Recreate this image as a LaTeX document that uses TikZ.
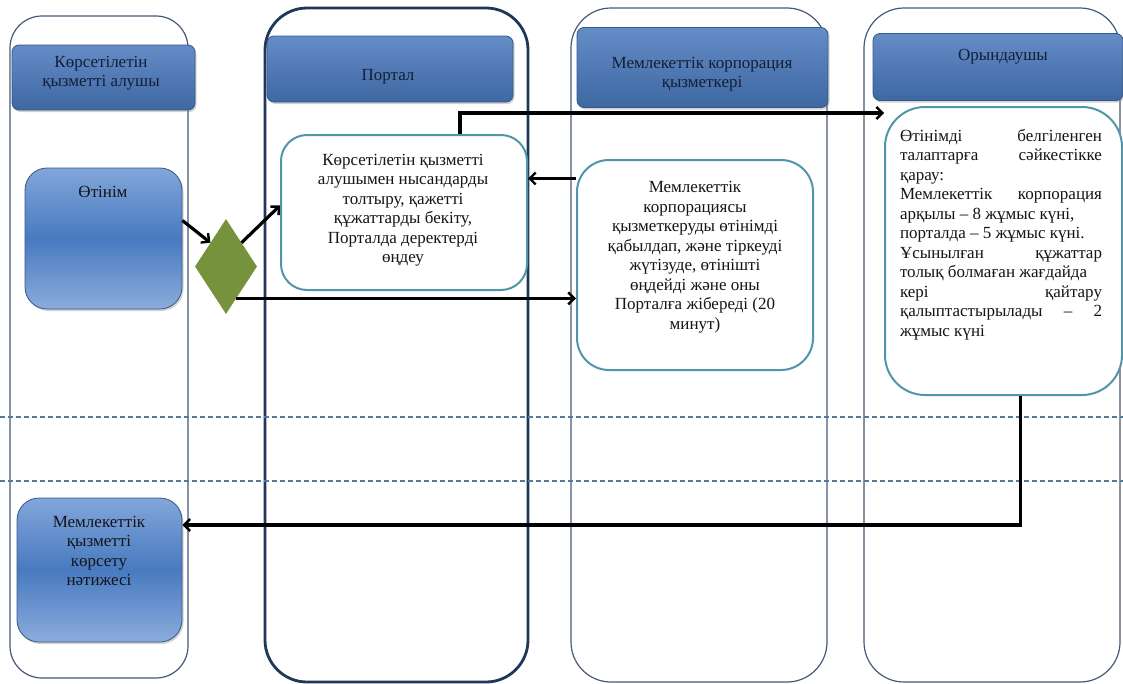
\documentclass[tikz,border=0pt]{standalone}
\usepackage{fontspec}
\setmainfont{Liberation Serif}
\usetikzlibrary{arrows.meta,shapes.geometric,shadows,calc}
\definecolor{lanec}{RGB}{70,90,120}
\definecolor{laneB}{RGB}{30,55,90}
\definecolor{tealc}{RGB}{80,150,168}
\definecolor{hdtop}{RGB}{100,140,198}
\definecolor{hdbot}{RGB}{62,104,162}
\definecolor{hdline}{RGB}{55,88,132}
\definecolor{olivegr}{RGB}{119,146,60}
\definecolor{dashc}{RGB}{80,125,145}
\definecolor{btop}{RGB}{130,166,218}
\definecolor{bmid}{RGB}{72,122,192}
\definecolor{bbot}{RGB}{140,172,220}
\definecolor{txtc}{RGB}{20,20,25}
\definecolor{htxtc}{RGB}{20,30,55}
\begin{document}
\begin{tikzpicture}[x=1pt,y=-1pt,
  lanethin/.style={draw=lanec,line width=1.2pt,rounded corners=32pt},
  lanethick/.style={draw=laneB,line width=2.8pt,rounded corners=42pt},
  hdr/.style={draw=hdline,line width=0.8pt,rounded corners=7pt,top color=hdtop,bottom color=hdbot,
    drop shadow={opacity=0.35,shadow xshift=1.5pt,shadow yshift=-2pt},inner sep=0pt},
  htxt/.style={align=center,text=htxtc,font=\fontsize{17}{19}\selectfont,inner sep=0pt},
  bluebox/.style={draw=hdline,line width=0.8pt,rounded corners=22pt,top color=btop,bottom color=bbot,middle color=bmid,
    drop shadow={opacity=0.35,shadow xshift=1.5pt,shadow yshift=-2pt},inner sep=0pt},
  tealbox/.style={draw=tealc,line width=2pt,fill=white,rounded corners=26pt,inner sep=0pt},
  btxt/.style={align=center,text=txtc,font=\fontsize{17}{19.5}\selectfont,inner sep=0pt},
  arr/.style={draw=black,line width=3.2pt,-{Straight Barb[length=6pt,width=12pt,line width=2.4pt]}},
  dashln/.style={draw=dashc,line width=1.2pt,dash pattern=on 5pt off 3pt}
]
\useasboundingbox (0,0) rectangle (1123,683);
\fill[white] (0,0) rectangle (1123,683);

% lanes
\draw[lanethin] (10,16) rectangle (188,678);
\draw[lanethick] (265,8) rectangle (528,682);
\draw[lanethin,rounded corners=40pt] (571,8) rectangle (827,682);
\draw[lanethin,rounded corners=40pt] (864,8) rectangle (1120,682);

% dashed separators
\draw[dashln] (0,417) -- (1123,417);
\draw[dashln] (0,481) -- (1123,481);

% headers
\node[hdr,minimum width=183pt,minimum height=65pt] (h1) at (103.5,77.5) {};
\node[htxt] (h1t) at (101,73) {Көрсетілетін\\қызметті алушы};
\node[hdr,minimum width=246pt,minimum height=66pt] (h2) at (390,69) {};
\node[htxt] (h2t) at (388,77) {Портал};
\node[hdr,minimum width=251pt,minimum height=80pt] (h3) at (702.5,67.5) {};
\node[htxt] (h3t) at (702,74) {Мемлекеттік корпорация\\қызметкері};
\node[hdr,minimum width=250pt,minimum height=67pt] (h4) at (998,67) {};
\node[htxt] (h4t) at (1003,57) {Орындаушы};

% process nodes
\node[bluebox,minimum width=157pt,minimum height=141pt] (app) at (103.5,238.5) {};
\node[btxt] (appt) at (103,192) {Өтінім};

\node[diamond,fill=olivegr,minimum width=62pt,minimum height=95pt,inner sep=0pt] (dia) at (226,266.5) {};

\node[tealbox,minimum width=246pt,minimum height=155pt] (pb) at (404,212.5) {};
\node[btxt] (pbt) at (403,210) {Көрсетілетін қызметті\\алушымен нысандарды\\толтыру, қажетті\\құжаттарды бекіту,\\Порталда деректерді\\өңдеу};

\node[tealbox,minimum width=236pt,minimum height=210pt,rounded corners=32pt] (b3) at (695,265) {};
\node[btxt] (b3t) at (695,257) {Мемлекеттік\\корпорациясы\\қызметкеруды өтінімді\\қабылдап, және тіркеуді\\жүтізуде, өтінішті\\өңдейді және оны\\Порталға жібереді (20\\минут)};

\node[tealbox,minimum width=237pt,minimum height=288pt,rounded corners=40pt] (b4) at (1003.5,251) {};
\node[btxt,align=justify,text width=202pt,anchor=north] (b4t) at (1001,129) {Өтінімді\hfill белгіленген\\
талаптарға\hfill сәйкестікке\\
қарау:\\
Мемлекеттік\hfill корпорация\\
арқылы – 8 жұмыс күні,\\
порталда – 5 жұмыс күні.\\
Ұсынылған\hfill құжаттар\\
толық болмаған жағдайда\\
кері\hfill қайтару\\
қалыптастырылады\hfill –\hfill 2\\
жұмыс күні};

\node[bluebox,minimum width=165pt,minimum height=144pt] (res) at (99.5,570) {};
\node[btxt] (rest) at (99,551) {Мемлекеттік\\қызметті\\көрсету\\нәтижесі};

% connectors
\draw[arr] ([yshift=18pt]app.east) -- (dia.north west);
\draw[arr] (dia.north east) -- ([yshift=7pt]pb.west);
\draw[arr] (dia.-72) -- (dia.-72 -| b3.west);
\coordinate (m1) at ([yshift=34pt]pb.east);
\draw[arr] (b3.west |- m1) -- (m1);
\coordinate (m2) at ([xshift=56pt]pb.north);
\draw[arr] (m2) |- (b4.west |- 0,113);
\coordinate (m3) at ([xshift=17pt]b4.south);
\draw[arr] (m3) |- (res.east |- 0,525);
\end{tikzpicture}
\end{document}
